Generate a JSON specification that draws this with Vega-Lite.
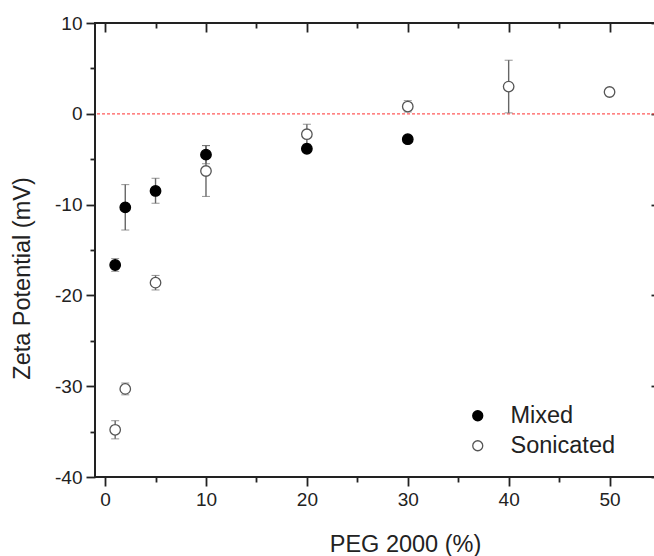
{
  "$schema": "https://vega.github.io/schema/vega-lite/v6.json",
  "width": 565,
  "height": 454,
  "autosize": "none",
  "padding": {"left": 95, "top": 23, "right": 0, "bottom": 79},
  "background": "white",
  "config": {
    "view": {"stroke": "#222", "strokeWidth": 2},
    "axis": {
      "grid": false,
      "domain": false,
      "labelFont": "Liberation Sans",
      "titleFont": "Liberation Sans",
      "labelFontSize": 19,
      "titleFontSize": 23.5,
      "titleFontWeight": "normal",
      "labelColor": "#222",
      "titleColor": "#222",
      "tickColor": "#222",
      "tickWidth": 1.8
    },
    "legend": {
      "labelFont": "Liberation Sans",
      "labelFontSize": 23.5,
      "labelColor": "#222",
      "symbolStrokeWidth": 1.3,
      "symbolSize": 100,
      "padding": 0,
      "rowPadding": 5,
      "labelOffset": 21
    }
  },
  "data": {
    "values": [
      {"x": 1, "y": -16.65, "lo": -17.35, "hi": -15.95, "series": "Mixed"},
      {"x": 2, "y": -10.3, "lo": -12.8, "hi": -7.8, "series": "Mixed"},
      {"x": 5, "y": -8.5, "lo": -9.85, "hi": -7.1, "series": "Mixed"},
      {"x": 10, "y": -4.5, "lo": -5.5, "hi": -3.5, "series": "Mixed"},
      {"x": 20, "y": -3.85, "lo": -4.1, "hi": -3.6, "series": "Mixed"},
      {"x": 30, "y": -2.8, "lo": -3.0, "hi": -2.6, "series": "Mixed"},
      {"x": 1, "y": -34.8, "lo": -35.8, "hi": -33.8, "series": "Sonicated"},
      {"x": 2, "y": -30.3, "lo": -30.95, "hi": -29.65, "series": "Sonicated"},
      {"x": 5, "y": -18.6, "lo": -19.4, "hi": -17.8, "series": "Sonicated"},
      {"x": 10, "y": -6.3, "lo": -9.1, "hi": -3.5, "series": "Sonicated"},
      {"x": 20, "y": -2.25, "lo": -3.35, "hi": -1.15, "series": "Sonicated"},
      {"x": 30, "y": 0.8, "lo": 0.2, "hi": 1.45, "series": "Sonicated"},
      {"x": 40, "y": 3.0, "lo": 0.1, "hi": 5.9, "series": "Sonicated"},
      {"x": 50, "y": 2.4, "lo": 2.05, "hi": 2.75, "series": "Sonicated"}
    ]
  },
  "layer": [
    {
      "data": {"values": [{"y": 0}]},
      "mark": {"type": "rule", "color": "#ff5a5a", "strokeDash": [3, 2], "strokeWidth": 1.2},
      "encoding": {
        "y": {"field": "y", "type": "quantitative", "scale": {"domain": [-40, 10], "nice": false, "zero": false}, "axis": null}
      }
    },
    {
      "mark": {
        "type": "errorbar",
        "ticks": {"size": 8, "color": "#666", "strokeWidth": 1.4},
        "rule": {"color": "#666", "strokeWidth": 1.4}
      },
      "encoding": {
        "x": {
          "field": "x", "type": "quantitative",
          "scale": {"domain": [-1, 55], "nice": false, "zero": false},
          "axis": {
            "orient": "bottom",
            "values": [0, 5, 10, 15, 20, 25, 30, 35, 40, 45, 50],
            "labelExpr": "datum.value % 10 === 0 ? toString(datum.value) : ''",
            "tickSize": {"condition": {"test": "datum.value % 10 === 0", "value": 9}, "value": 5},
            "labelPadding": 4,
            "title": "PEG 2000 (%)",
            "titleX": 310,
            "titleY": 74,
            "titleAlign": "center",
            "titleBaseline": "alphabetic"
          }
        },
        "y": {
          "field": "lo", "type": "quantitative",
          "scale": {"domain": [-40, 10], "nice": false, "zero": false},
          "axis": {
            "orient": "left",
            "values": [-40, -35, -30, -25, -20, -15, -10, -5, 0, 5, 10],
            "labelExpr": "datum.value % 10 === 0 ? toString(datum.value) : ''",
            "tickSize": {"condition": {"test": "datum.value % 10 === 0", "value": 9}, "value": 5},
            "labelPadding": 4,
            "title": "Zeta Potential (mV)",
            "titleX": -66,
            "titleY": 255,
            "titleAngle": 270,
            "titleAlign": "center",
            "titleBaseline": "alphabetic"
          }
        },
        "y2": {"field": "hi"}
      }
    },
    {
      "mark": {"type": "point", "shape": "circle", "filled": true, "size": 110, "strokeWidth": 1.3, "opacity": 1},
      "encoding": {
        "x": {
          "field": "x", "type": "quantitative",
          "scale": {"domain": [-1, 55], "nice": false, "zero": false},
          "axis": {
            "orient": "top",
            "values": [0, 5, 10, 15, 20, 25, 30, 35, 40, 45, 50],
            "labels": false,
            "tickSize": {"condition": {"test": "datum.value % 10 === 0", "value": -9}, "value": -5},
            "title": null
          }
        },
        "y": {
          "field": "y", "type": "quantitative",
          "scale": {"domain": [-40, 10], "nice": false, "zero": false},
          "axis": {
            "orient": "right",
            "values": [-40, -35, -30, -25, -20, -15, -10, -5, 0, 5, 10],
            "labels": false,
            "tickSize": {"condition": {"test": "datum.value % 10 === 0", "value": -9}, "value": -5},
            "title": null
          }
        },
        "fill": {
          "field": "series", "type": "nominal",
          "scale": {"domain": ["Mixed", "Sonicated"], "range": ["#000000", "#ffffff"]},
          "legend": {"title": null, "orient": "none", "legendX": 371, "legendY": 381}
        },
        "stroke": {
          "field": "series", "type": "nominal",
          "scale": {"domain": ["Mixed", "Sonicated"], "range": ["#000000", "#555555"]},
          "legend": {"title": null, "orient": "none", "legendX": 371, "legendY": 381}
        }
      }
    }
  ],
  "resolve": {"axis": {"x": "independent", "y": "independent"}}
}
